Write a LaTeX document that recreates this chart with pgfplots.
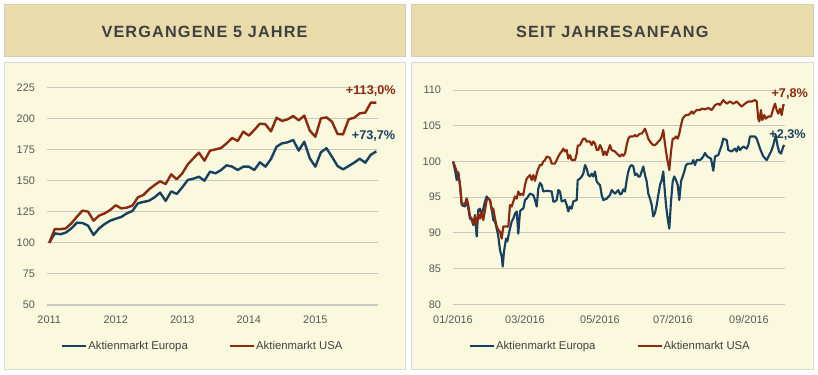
\documentclass[border=0pt]{standalone}
\usepackage{fontspec}
\setmainfont{Liberation Sans}
\newfontfamily\titlefont[LetterSpace=7]{Liberation Sans}
\usepackage{pgfplots}
\usepackage{pgfplotstable}
\pgfplotsset{compat=1.18}

\definecolor{eur}{HTML}{17415F}
\definecolor{usa}{HTML}{8A2A0F}
\definecolor{hdr}{HTML}{EADCAA}
\definecolor{hdrborder}{HTML}{D8D0B5}
\definecolor{panel}{HTML}{FAF9DD}
\definecolor{panelborder}{HTML}{D9D9D9}
\definecolor{gridc}{HTML}{C9C9C4}
\definecolor{ticktext}{HTML}{595959}
\definecolor{titletext}{HTML}{404040}

% monthly index, 5 years (0 = Jan 2011)
\pgfplotstableread{
m v
0 100
1 107.7
2 107
3 108.3
4 111.7
5 116.3
6 116
7 113.9
8 106.4
9 111.7
10 115.2
11 117.9
12 119.5
13 120.9
14 123.8
15 125.7
16 131.9
17 133
18 134
19 136.7
20 140.5
21 133.8
22 141.5
23 139.4
24 144.8
25 150.7
26 151.7
27 153.3
28 150.1
29 157.4
30 156
31 158.7
32 162.5
33 161.4
34 158.7
35 161.4
36 161.4
37 158.7
38 164.9
39 161.4
40 167.6
41 177.5
42 180.2
43 181
44 182.9
45 174.3
46 181.5
47 168.1
48 161.4
49 173
50 176.2
51 169.4
52 161.9
53 159.2
54 161.9
55 164.6
56 167.8
57 164.6
58 171
59 173.7
}\europeFive

\pgfplotstableread{
m v
0 100
1 111.2
2 111
3 111.7
4 115.8
5 121.1
6 126
7 125.2
8 117.9
9 122
10 123.8
11 126.5
12 130.3
13 127.8
14 128.4
15 130
16 136.7
17 138.6
18 143.1
19 146.6
20 149.6
21 147.4
22 155.2
23 151.2
24 156
25 163.3
26 168.1
27 172.7
28 166.2
29 174.3
30 175.3
31 176.4
32 180.2
33 184.5
34 182.1
35 189.6
36 186.4
37 191
38 196
39 195.5
40 189.8
41 200.8
42 198.2
43 199.5
44 202.2
45 198.7
46 202.5
47 190.4
48 185.5
49 200.3
50 201.1
51 197.6
52 187.7
53 187.4
54 199.5
55 200.8
56 204.3
57 204.9
58 212.9
59 213.0
}\usaFive

% year to date (position along the date axis)
\pgfplotstableread{
d v
0 100.0
2 98.8
3.7 97.4
5.3 98.5
7 96.7
8.7 93.9
12 93.7
13.7 94.8
15.3 93.4
17 92.0
18.7 91.8
20.3 91.1
22 92.5
23.7 89.5
25.3 93.2
27 93.4
28.7 92.5
30.3 93.4
32 94.4
33.7 95.1
35.3 94.8
37 94.6
38.7 93.4
40.3 91.8
42 91.6
43.7 90.6
45.3 89.5
47 87.6
48.7 86.7
49.7 85.3
51 87.4
53 89.2
54.3 88.8
56.3 90.2
58.7 91.6
60.3 92.0
62 92.7
63.7 93.0
65.3 89.9
67 93.0
68.7 93.3
70.3 93.4
72 94.6
73.7 94.8
77 95.5
80.3 95.3
82 94.6
83.7 93.7
85.3 96.2
87 97.0
88.7 96.7
90.3 95.8
93.7 95.9
98.7 95.8
100.3 94.4
102 94.4
103.7 94.6
105.3 96.0
107 95.8
108.7 94.4
112 94.6
113.7 93.9
115.3 93.0
117 93.7
118.7 93.4
120.3 94.4
123.7 94.6
124.7 97.4
127 97.6
128.7 97.9
130.3 98.3
132 99.5
133.7 99.0
135.3 98.1
137 97.9
138.7 98.3
140.3 97.9
142 98.6
143.7 97.2
145.3 96.9
147 96.7
148.7 95.3
150.3 94.6
153.7 94.8
157 95.3
158.7 96.0
162 95.5
165.3 96.0
167 95.4
168.7 95.5
170.3 96.1
172 95.8
173.7 97.4
175.3 98.6
177 99.3
178.7 99.5
180.3 99.3
182 98.1
183.7 98.3
185.3 97.9
187 97.9
188.7 98.6
190.3 99.3
192 98.1
193.7 97.2
195.3 95.5
197 94.8
198.7 93.9
200.3 92.3
202 92.8
203.7 93.9
205.3 95.3
207 96.7
208.7 97.4
210.3 98.6
211.3 96.7
213 93.9
214.7 92.0
216.3 90.6
218 94.4
219.7 97.2
221.3 97.9
223 97.4
224.7 96.7
226.3 94.6
228 97.2
229.7 97.9
231.3 98.6
233 99.5
235.3 99.7
238.7 99.7
240.3 100.2
242 99.5
243.7 100.2
247 100.2
248.7 100.4
250.3 100.7
252 101.2
253.7 100.8
255.3 100.6
258 100.4
260.3 98.7
262 100.7
265.3 100.9
268.7 102.3
270.3 103.2
273.7 103.0
275.3 101.6
278.7 101.4
282 101.8
283.7 101.4
285.3 102.1
287 101.6
290.3 102.1
293.7 101.8
295.3 102.3
297 103.5
302 103.5
303.7 103.2
307 101.8
310.3 100.7
313.7 100.2
317 101.1
318.7 101.6
320.3 102.3
322.7 103.7
324.7 102.1
326 101.4
328 101.1
330.3 102.1
331.5 102.3
}\europeYTD

\pgfplotstableread{
d v
0 100
2 99.3
3.7 98.6
5.3 98.3
7 96.7
8.7 94.1
12 94.1
13.7 94.8
15.3 93.9
17 92.3
18.7 92.0
20.3 91.3
22 92.3
23.7 91.1
25.3 92.7
27 92.0
28.7 93.0
30.3 91.8
32 93.2
33.7 94.6
35.3 94.8
37 94.6
38.7 93.2
40.3 93.4
42 92.0
43.7 90.9
45.3 90.4
47 90.2
48.7 89.2
50.3 90.9
53 90.9
55.3 90.9
57 93.9
58.7 93.7
60.3 94.4
62 95.1
63.7 94.8
65.3 95.8
67 95.3
68.7 95.5
70.3 95.3
72 96.7
73.7 97.6
77 98.1
78.7 97.4
80.3 98.1
82 97.3
84.3 98.6
85.3 99.0
87 99.5
88.7 99.5
90.3 100.0
92 100.2
93.7 100.7
97 100.5
98.7 99.7
102 99.7
105.3 100.7
107 101.1
108.7 101.4
110.3 101.8
112 101.4
113.7 101.6
115.3 100.4
117 100.9
118.7 100.2
122 100.2
123.7 101.1
124.7 102.2
127 102.3
128.7 102.8
130.3 103.2
132 103.2
133.7 102.8
137 102.8
138.7 102.3
140.3 102.8
142 102.5
143.7 101.6
145.3 101.6
147 102.3
148.7 101.8
150.3 100.9
152 101.4
153.7 100.9
155.3 101.6
157 102.3
158.7 101.6
162 101.4
165.3 100.9
167 100.7
168.7 101.0
170.3 100.8
172 101.1
173.7 102.3
175.3 103.2
177 103.5
180.3 103.5
182 103.7
183.7 103.5
185.3 103.7
187 103.9
188.7 103.9
190.3 104.2
192 104.6
193.7 103.9
195.3 103.2
197 102.8
198.7 102.5
200.3 102.3
202 102.3
203.7 102.5
205.3 102.8
207 103.0
208.7 103.5
210.3 104.4
211.3 103.2
213 101.4
214.7 100.0
216.3 98.8
218 101.4
219.7 103.2
221.3 103.2
223 103.5
224.7 103.2
226.3 103.9
228 105.1
229.7 106.0
231.3 106.3
233 106.5
235.3 106.5
237 106.7
238.7 107.0
240.3 106.7
242 107.0
243.7 107.2
247 107.2
248.7 107.4
252 107.3
255.3 107.5
258.7 107.2
262 107.9
265.3 108.1
267 107.9
270.3 108.6
273.7 108.1
277 108.4
280.3 108.1
283.7 108.4
287 107.9
288.7 107.7
292 108.1
295.3 108.4
298.7 108.4
302 108.6
303.7 108.4
305.3 106.0
306.3 105.6
308 107.2
309.3 105.8
311.3 106.5
312.7 106.0
315.3 106.3
318 106.3
320.3 107.4
322 108.1
323.7 107.2
325.3 106.7
327 107.4
328.7 106.5
330.3 107.9
331.5 107.8
}\usaYTD

\tikzset{annot/.style={font=\bfseries\fontsize{9.5}{11}\selectfont, inner sep=0pt}}
\pgfplotsset{
  panelaxis/.style={
    scale only axis, clip=false,
    axis line style={draw=none},
    major tick length=0pt,
    ymajorgrids, grid style={gridc, line width=0.8pt},
    tick label style={font=\fontsize{8.2}{10}\selectfont, text=ticktext},
    /pgf/number format/assume math mode=true,
    yticklabel style={xshift=-5.5pt},
    xticklabel style={yshift=-4.8pt},
    legend columns=2,
    legend style={draw=none, fill=none, inner sep=0pt, outer sep=0pt,
      font=\fontsize{8.5}{10}\selectfont, text=titletext,
      nodes={inner sep=0.7pt},
      /tikz/every even column/.append style={column sep=30pt}},
    legend image code/.code={\draw[##1] (0pt,0pt) -- (18pt,0pt);},
  },
}

\begin{document}
\begin{tikzpicture}
\path[use as bounding box, fill=white] (0,0) rectangle (613.5pt,281.25pt);
% headers
\filldraw[fill=hdr, draw=hdrborder, line width=0.75pt] (3pt,238.5pt) rectangle (303.75pt,277.5pt);
\filldraw[fill=hdr, draw=hdrborder, line width=0.75pt] (308.6pt,238.5pt) rectangle (609.75pt,277.5pt);
\node[font=\titlefont\bfseries\fontsize{12.2}{14}\selectfont, text=titletext] at (153.4pt,257.6pt) {VERGANGENE 5 JAHRE};
\node[font=\titlefont\bfseries\fontsize{12.2}{14}\selectfont, text=titletext] at (459.2pt,257.6pt) {SEIT JAHRESANFANG};
% panels
\filldraw[fill=panel, draw=panelborder, line width=0.75pt] (3pt,4.1pt) rectangle (303.75pt,234pt);
\filldraw[fill=panel, draw=panelborder, line width=0.75pt] (308.6pt,4.1pt) rectangle (609.75pt,234pt);

\begin{axis}[panelaxis,
  at={(35.25pt,52.5pt)}, anchor=south west,
  width=248.25pt, height=163pt,
  xmin=-0.4, xmax=59.3, ymin=50, ymax=225,
  xtick={0,12,24,36,48}, xticklabels={2011,2012,2013,2014,2015},
  ytick={50,75,100,125,150,175,200,225},
  legend style={at={(0.0423,-0.1887)}, anchor=west},
]
\addplot[eur, line width=1.8pt, line join=round] table[x=m,y=v] {\europeFive};
\addlegendentry{Aktienmarkt Europa}
\addplot[usa, line width=1.8pt, line join=round] table[x=m,y=v] {\usaFive};
\addlegendentry{Aktienmarkt USA}
\node[annot, text=usa] at (axis cs:58,222.6) {+113,0\%};
\node[annot, text=eur] at (axis cs:58.5,186.1) {+73,7\%};
\end{axis}

\begin{axis}[panelaxis,
  at={(339.75pt,53pt)}, anchor=south west,
  width=249pt, height=160.7pt,
  xmin=0, xmax=332, ymin=80, ymax=110,
  xtick={0,72,147,220,296}, xticklabels={01/2016,03/2016,05/2016,07/2016,09/2016},
  ytick={80,85,90,95,100,105,110},
  legend style={at={(0.048,-0.1946)}, anchor=west},
]
\addplot[eur, line width=1.6pt, line join=round] table[x=d,y=v] {\europeYTD};
\addlegendentry{Aktienmarkt Europa}
\addplot[usa, line width=1.6pt, line join=round] table[x=d,y=v] {\usaYTD};
\addlegendentry{Aktienmarkt USA}
\node[annot, text=usa] at (axis cs:336.7,109.5) {+7,8\%};
\node[annot, text=eur] at (axis cs:334.5,103.7) {+2,3\%};
\end{axis}
\end{tikzpicture}
\end{document}
